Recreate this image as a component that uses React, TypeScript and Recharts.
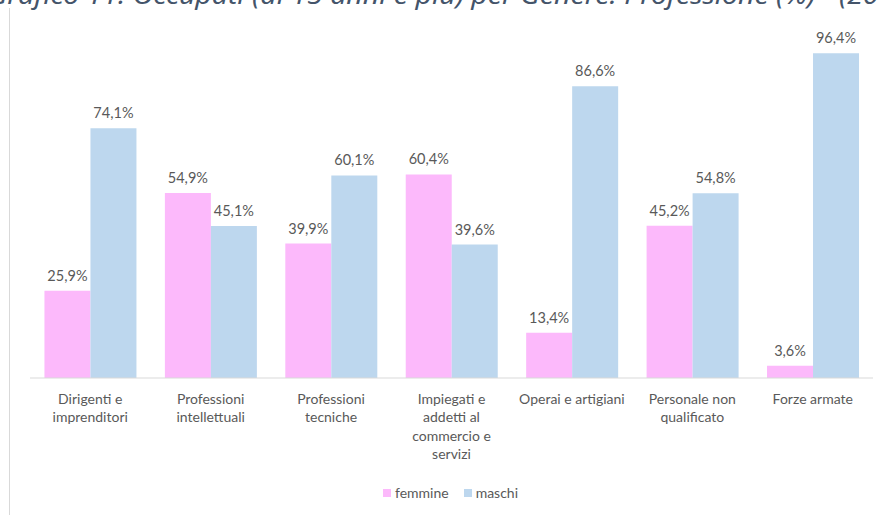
import React from "react";
import { BarChart, Bar, XAxis, YAxis, LabelList } from "recharts";

const categories = [
  "Dirigenti e\nimprenditori",
  "Professioni\nintellettuali",
  "Professioni\ntecniche",
  "Impiegati e\naddetti al\ncommercio e\nservizi",
  "Operai e artigiani",
  "Personale non\nqualificato",
  "Forze armate",
];
const femmine = [25.9, 54.9, 39.9, 60.4, 13.4, 45.2, 3.6];
const maschi = [74.1, 45.1, 60.1, 39.6, 86.6, 54.8, 96.4];
const seriesNames = ["femmine", "maschi"];
const seriesColors = ["#FCB9FB", "#BDD7EE"];
const title = "Grafico 11: Occupati (di 15 anni e più) per Genere. Professione (%) - (2013)";

const data = categories.map((c, i) => ({ name: c, femmine: femmine[i], maschi: maschi[i] }));

const FONT = "Lato, 'Open Sans', sans-serif";
const TXT = "#595959";

const fmt = (v: any) => `${Number(v).toFixed(1).replace(".", ",")}%`;

const Tick = (props: any) => {
  const { x, y, payload } = props;
  const lines = String(payload.value).split("\n");
  return (
    <g>
      {lines.map((l, i) => (
        <text key={i} x={x} y={y + 18 + i * 18.3} textAnchor="middle" fill={TXT} fontSize={14} fontFamily={FONT}>
          {l}
        </text>
      ))}
    </g>
  );
};

export default function App() {
  return (
    <div style={{ position: "absolute", left: 0, top: 0, width: 879, height: 515, overflow: "hidden", background: "#fff" }}>
      <div style={{ position: "absolute", left: 9, top: 8, width: 1, height: 507, background: "#d9d9d9" }} />
      <BarChart
        width={879}
        height={515}
        data={data}
        margin={{ top: 41, right: 6, bottom: 107, left: 30 }}
        barCategoryGap="12%"
        barGap={0}
      >
        <text
          x={-12}
          y={4}
          fill="#44546A"
          fontSize={26}
          fontStyle="italic"
          fontFamily="'Noto Sans', sans-serif"
          textLength={930}
          lengthAdjust="spacingAndGlyphs"
        >
          {title}
        </text>
        <XAxis dataKey="name" height={30} axisLine={{ stroke: "#d9d9d9" }} tickLine={false} interval={0} tick={<Tick />} />
        <YAxis hide domain={[0, 100]} />
        <Bar dataKey="femmine" name={seriesNames[0]} fill={seriesColors[0]} isAnimationActive={false}>
          <LabelList dataKey="femmine" position="top" offset={10} formatter={fmt} fill={TXT} fontSize={14.5} fontFamily={FONT} />
        </Bar>
        <Bar dataKey="maschi" name={seriesNames[1]} fill={seriesColors[1]} isAnimationActive={false}>
          <LabelList dataKey="maschi" position="top" offset={10} formatter={fmt} fill={TXT} fontSize={14.5} fontFamily={FONT} />
        </Bar>
      </BarChart>
      <div
        style={{
          position: "absolute",
          left: 0,
          top: 484,
          width: 879,
          display: "flex",
          justifyContent: "center",
          fontFamily: FONT,
          fontSize: 14,
          color: TXT,
          paddingLeft: 22,
          boxSizing: "border-box",
        }}
      >
        {seriesNames.map((n, i) => (
          <span key={n} style={{ display: "inline-flex", alignItems: "center", marginRight: i === 0 ? 15 : 0 }}>
            <span style={{ display: "inline-block", width: 8, height: 8, background: seriesColors[i], marginRight: 4 }} />
            {n}
          </span>
        ))}
      </div>
    </div>
  );
}
